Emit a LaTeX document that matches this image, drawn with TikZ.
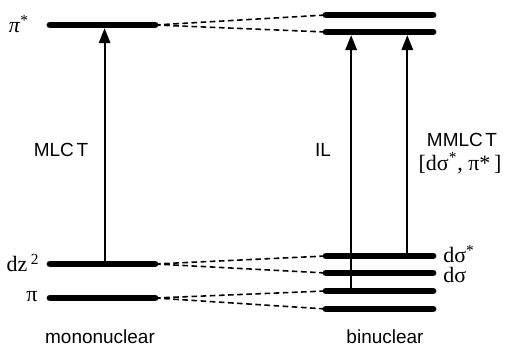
\documentclass[tikz,border=0pt]{standalone}
\usepackage{fontspec}
\setmainfont{Liberation Serif}
\setsansfont{Liberation Sans}
\usepackage{tikz}
\usetikzlibrary{positioning,calc,arrows.meta}

\begin{document}
\begin{tikzpicture}[
                x=0.02cm, y=-0.02cm,
                % Energy level: thick bar with end points
                level/.pic={
                    \draw[line width=3.9pt, line cap=round] (0,0) coordinate (-l) -- (#1,0) coordinate (-r);
                },
                link/.style={dashed, dash pattern=on 3.2pt off 2pt, line width=0.9pt},
                arrow/.style={-{Triangle[length=8.5pt,width=6.5pt]}, line width=1.1pt, shorten >=1.8pt},
                lbl/.style={font=\sffamily\fontsize{10.8}{12}\selectfont},
                orb/.style={font=\fontsize{12.5}{14}\selectfont, inner sep=0pt}
            ]
                \useasboundingbox (0,0) rectangle (505,351);

                % Mononuclear levels
                \path (50,25) pic (piStarM) {level=105};
                \path (50,264) pic (dzM) {level=105};
                \path (50,298) pic (piM) {level=105};

                % Binuclear levels
                \path (326,15) pic (piStarBa) {level=107};
                \path (326,32) pic (piStarBb) {level=107};
                \path (326,256) pic (dsStarB) {level=107};
                \path (326,273) pic (dsB) {level=107};
                \path (326,291) pic (piBa) {level=107};
                \path (326,309) pic (piBb) {level=107};

                % Correlation lines
                \draw[link] (piStarM-r) -- (piStarBa-l);
                \draw[link] (piStarM-r) -- (piStarBb-l);
                \draw[link] (dzM-r) -- (dsStarB-l);
                \draw[link] (dzM-r) -- (dsB-l);
                \draw[link] (piM-r) -- (piBa-l);
                \draw[link] (piM-r) -- (piBb-l);

                % Transitions
                \draw[arrow] ($(dzM-l)!0.52!(dzM-r)$) -- ($(piStarM-l)!0.52!(piStarM-r)$);
                \draw[arrow] ($(piBa-l)!0.235!(piBa-r)$) -- ($(piStarBb-l)!0.235!(piStarBb-r)$);
                \draw[arrow] ($(dsStarB-l)!0.76!(dsStarB-r)$) -- ($(piStarBb-l)!0.76!(piStarBb-r)$);

                % Labels
                \node[orb] (lblPiStar) at (19,24) {\textit{π}\textsuperscript{*}};
                \node[orb] (lblDz) at (23,263) {dz\,\textsuperscript{2}};
                \node[orb] (lblPi) at (32,297) {π};
                \node[orb, anchor=west] (lblDsStar) at (443,254) {dσ\textsuperscript{*}};
                \node[orb, anchor=west] (lblDs) at (443,275) {dσ};
                \node[lbl] (lblMLCT) at (61,150) {MLC\kern1.5pt T};
                \node[lbl] (lblIL) at (323,150) {IL};
                \node[lbl] (lblMMLCT) at (462,140) {MMLC\kern1.5pt T};
                \node[orb] (lblPair) at (460,163) {[dσ\textsuperscript{*}, π*\,]};
                \node[lbl] (lblMono) at (100,337) {mononuclear};
                \node[lbl] (lblBi) at (385,337) {binuclear};

            \end{tikzpicture}
\end{document}
